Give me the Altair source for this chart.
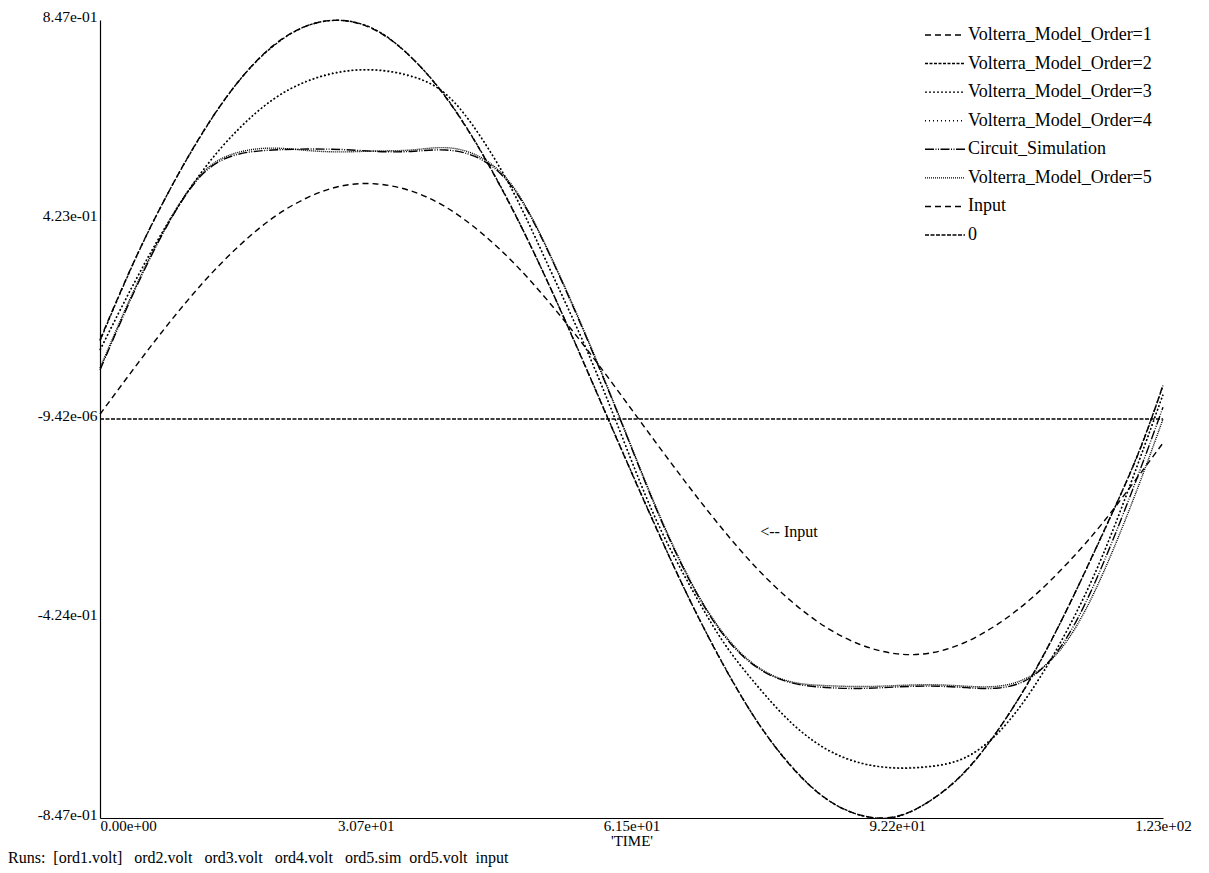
import altair as alt
import pandas as pd

# Sample times (x axis, 'TIME')
t = [0, 4, 8, 12, 16, 20, 24, 28, 32, 36, 40, 44, 48, 52, 56, 60,
     64, 68, 72, 76, 80, 84, 88, 92, 96, 100, 104, 108, 112, 116, 120, 123]

# Volterra model outputs, circuit simulation and input waveform
order1 = [0.168, 0.337, 0.484, 0.612, 0.716, 0.792, 0.835, 0.846, 0.824, 0.768, 0.683,
          0.570, 0.435, 0.283, 0.118, -0.051, -0.217, -0.375, -0.518, -0.641, -0.738,
          -0.806, -0.841, -0.844, -0.811, -0.750, -0.658, -0.540, -0.400, -0.244, -0.080, 0.072]
order2 = [0.166, 0.336, 0.484, 0.611, 0.716, 0.791, 0.835, 0.846, 0.825, 0.768, 0.684,
          0.571, 0.436, 0.283, 0.119, -0.050, -0.216, -0.375, -0.517, -0.641, -0.737,
          -0.806, -0.841, -0.845, -0.811, -0.751, -0.658, -0.541, -0.400, -0.245, -0.079, 0.071]
order3 = [0.146, 0.290, 0.420, 0.530, 0.615, 0.678, 0.717, 0.737, 0.741, 0.728, 0.690,
          0.600, 0.475, 0.320, 0.160, -0.018, -0.200, -0.345, -0.470, -0.565, -0.645,
          -0.700, -0.730, -0.741, -0.738, -0.720, -0.665, -0.570, -0.445, -0.290, -0.100, 0.052]
order4 = [0.147, 0.291, 0.421, 0.530, 0.614, 0.678, 0.718, 0.738, 0.740, 0.727, 0.690,
          0.601, 0.476, 0.321, 0.160, -0.019, -0.199, -0.346, -0.470, -0.566, -0.645,
          -0.701, -0.731, -0.740, -0.737, -0.719, -0.664, -0.571, -0.446, -0.291, -0.101, 0.051]
circuit = [0.104, 0.272, 0.418, 0.522, 0.562, 0.571, 0.573, 0.572, 0.568, 0.568, 0.571,
           0.552, 0.485, 0.350, 0.185, 0.008, -0.175, -0.335, -0.455, -0.527, -0.560,
           -0.570, -0.572, -0.569, -0.567, -0.570, -0.571, -0.545, -0.460, -0.310, -0.125, 0.025]
order5 = [0.108, 0.276, 0.420, 0.525, 0.566, 0.575, 0.570, 0.567, 0.569, 0.571, 0.576,
          0.556, 0.488, 0.352, 0.188, 0.010, -0.172, -0.332, -0.452, -0.525, -0.558,
          -0.566, -0.568, -0.566, -0.564, -0.567, -0.567, -0.542, -0.468, -0.330, -0.150, 0.000]
input_wave = [0.010, 0.109, 0.204, 0.291, 0.366, 0.427, 0.470, 0.495, 0.499, 0.484, 0.450,
              0.397, 0.329, 0.247, 0.156, 0.058, -0.042, -0.140, -0.233, -0.317, -0.387,
              -0.442, -0.479, -0.498, -0.497, -0.475, -0.434, -0.377, -0.305, -0.221, -0.125, -0.051]

# Zero reference level
zero_t = [0, 123]
zero_v = [0.0, 0.0]

series_names = ["Volterra_Model_Order=1", "Volterra_Model_Order=2", "Volterra_Model_Order=3",
                "Volterra_Model_Order=4", "Circuit_Simulation", "Volterra_Model_Order=5",
                "Input", "0"]
dash_styles = [[6, 4], [3, 1.5], [2, 2], [1, 3], [9, 1.5, 1, 1.5, 1, 1.5], [1, 1], [6, 4], [4, 1.5]]

x_tick_values = [0, 30.75, 61.5, 92.25, 123]
x_tick_labels = ["0.00e+00", "3.07e+01", "6.15e+01", "9.22e+01", "1.23e+02"]
y_tick_values = [-0.847, -0.4235, 0, 0.4235, 0.847]
y_tick_labels = ["-8.47e-01", "-4.24e-01", "-9.42e-06", "4.23e-01", "8.47e-01"]

annotation_text = ["<-- Input"]
annotation_t = [76.4]
annotation_v = [-0.240]

NB = "\u00a0"
runs_text = ("Runs:" + NB * 2 + "[ord1.volt]" + NB * 3 + "ord2.volt" + NB * 3 + "ord3.volt"
             + NB * 3 + "ord4.volt" + NB * 3 + "ord5.sim" + NB * 2 + "ord5.volt" + NB * 2 + "input")

FONT = "Liberation Serif"

rows = []
for name, vals in zip(series_names[:7],
                      [order1, order2, order3, order4, circuit, order5, input_wave]):
    for ti, v in zip(t, vals):
        rows.append({"series": name, "t": ti, "v": v})
for ti, v in zip(zero_t, zero_v):
    rows.append({"series": "0", "t": ti, "v": v})
df = pd.DataFrame(rows)


def label_expr(values, labels):
    parts = [f"datum.value == {v} ? '{l}'" for v, l in zip(values, labels)]
    return " : ".join(parts) + " : ''"


dash_scale = alt.Scale(domain=series_names, range=dash_styles)
y_scale = alt.Scale(domain=[-0.847, 0.847], nice=False, zero=False)

lines = alt.Chart(df).mark_line(color="black", strokeWidth=1.4, interpolate="natural").encode(
    x=alt.X("t:Q",
            scale=alt.Scale(domain=[0, 123], nice=False, zero=False),
            axis=alt.Axis(values=x_tick_values,
                          labelExpr=label_expr(x_tick_values, x_tick_labels),
                          labelAlign={"condition": {"test": "datum.value == 0", "value": "left"},
                                      "value": "center"},
                          labelFlush=False, labelOverlap=False, labelBound=False,
                          ticks=False, tickSize=0, grid=False,
                          labelPadding=0, labelFont=FONT, labelFontSize=15, labelColor="black",
                          domainColor="black", domainWidth=1.2,
                          title="'TIME'", titleFont=FONT, titleFontSize=15,
                          titleFontWeight="normal", titleColor="black",
                          titleY=15, titleBaseline="top")),
    y=alt.Y("v:Q", scale=y_scale,
            axis=alt.Axis(values=y_tick_values,
                          labelExpr=label_expr(y_tick_values, y_tick_labels),
                          labelOverlap=False, labelBound=False, labelFlush=False,
                          ticks=False, tickSize=0, grid=False,
                          labelPadding=3, labelOffset=1, labelBaseline="alphabetic",
                          labelFont=FONT, labelFontSize=15.5, labelColor="black",
                          domainColor="black", domainWidth=1.2, title="")),
    strokeDash=alt.StrokeDash("series:N", scale=dash_scale, legend=None),
    detail="series:N",
)

annotation = alt.Chart(pd.DataFrame({"label": annotation_text, "t": annotation_t,
                                     "v": annotation_v})).mark_text(
    align="left", baseline="middle", font=FONT, fontSize=16, color="black"
).encode(
    x=alt.X("t:Q"),
    y=alt.Y("v:Q", scale=y_scale, axis=None),
    text="label:N",
)

legend_df = pd.DataFrame({"series": series_names})
legend_y = alt.Y("series:N",
                 scale=alt.Scale(type="point", domain=series_names, range=[15, 215], padding=0),
                 axis=None)
legend_lines = alt.Chart(legend_df).mark_rule(color="black", strokeWidth=1.4).encode(
    x=alt.value(825), x2=alt.value(865),
    y=legend_y,
    strokeDash=alt.StrokeDash("series:N", scale=dash_scale, legend=None),
)
legend_text = alt.Chart(legend_df).mark_text(
    align="left", baseline="middle", font=FONT, fontSize=18, color="black"
).encode(
    x=alt.value(868),
    y=legend_y,
    text="series:N",
)

runs = alt.Chart(pd.DataFrame({"runs": [runs_text]})).mark_text(
    align="left", baseline="middle", font=FONT, fontSize=16, color="black"
).encode(
    x=alt.value(-92), y=alt.value(838), text="runs:N",
)

chart = alt.layer(lines, annotation, legend_lines, legend_text, runs).resolve_scale(
    y="independent"
).properties(
    width=1063, height=798,
    autosize=alt.AutoSizeParams(type="none"),
    padding={"left": 100, "top": 20, "right": 46, "bottom": 55},
    background="white",
).configure_view(stroke=None)

chart.save("out.html", embed_options={"renderer": "svg", "actions": False})
